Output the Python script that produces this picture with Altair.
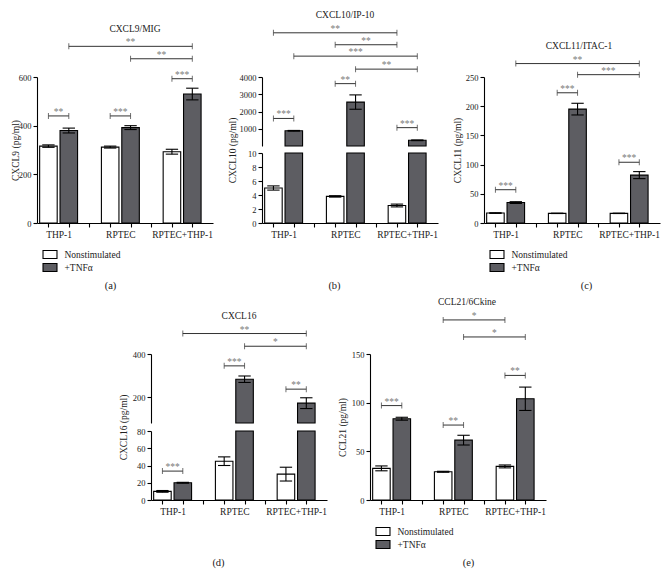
import altair as alt
import pandas as pd

FONT = "Liberation Serif"
DARK = "#5d5d62"
INK = "#222222"
STAR = "#7a7a7a"

groups = ["THP-1", "RPTEC", "RPTEC+THP-1"]
series = ["Nonstimulated", "+TNFα"]

# (a) CXCL9/MIG
a_non = [316, 312, 293]
a_non_err = [5, 4, 10]
a_tnf = [380, 392, 530]
a_tnf_err = [10, 8, 24]
a_brackets = [((0, 1), (2, 1), 726, "**"), ((1, 1), (2, 1), 675, "**"),
              ((2, 0), (2, 1), 593, "***"), ((0, 0), (0, 1), 440, "**"),
              ((1, 0), (1, 1), 440, "***")]

# (b) CXCL10/IP-10 (broken axis)
b_non = [5.0, 3.8, 2.5]
b_non_err = [0.3, 0.1, 0.2]
b_tnf = [890, 2550, 340]
b_tnf_err = [20, 415, 20]
b_brackets_upper = [((0, 0), (2, 0), 6556, "**"), ((1, 0), (2, 0), 5865, "**"),
                    ((0, 1), (2, 1), 5207, "***"), ((1, 1), (2, 1), 4455, "**"),
                    ((1, 0), (1, 1), 3616, "**"), ((0, 0), (0, 1), 1603, "***"),
                    ((2, 0), (2, 1), 1071, "***")]
b_brackets_lower = []

# (c) CXCL11/ITAC-1
c_non = [17, 16.5, 16.5]
c_non_err = [0.5, 0.3, 0.3]
c_tnf = [35, 195, 82]
c_tnf_err = [1.5, 10, 6]
c_brackets = [((0, 1), (2, 1), 273, "**"), ((1, 1), (2, 1), 254, "***"),
              ((1, 0), (1, 1), 223, "***"), ((0, 0), (0, 1), 57, "***"),
              ((2, 0), (2, 1), 104, "***")]

# (d) CXCL16 (broken axis)
d_non = [10, 45, 30]
d_non_err = [1, 5, 8]
d_tnf = [20, 283, 172]
d_tnf_err = [0.5, 15, 25]
d_brackets_upper = [((0, 1), (2, 1), 495, "**"), ((1, 1), (2, 1), 436, "*"),
                    ((1, 0), (1, 1), 345, "***"), ((2, 0), (2, 1), 237, "**")]
d_brackets_lower = [((0, 0), (0, 1), 33.5, "***")]

# (e) CCL21/6Ckine
e_non = [32.5, 29, 34.5]
e_non_err = [2.5, 0.5, 1.5]
e_tnf = [83.5, 61.5, 104]
e_tnf_err = [1.5, 5, 12]
e_brackets = [((1, 0), (2, 0), 185, "*"), ((1, 1), (2, 1), 167.5, "*"),
              ((0, 0), (0, 1), 97, "***"), ((1, 0), (1, 1), 77, "**"),
              ((2, 0), (2, 1), 128, "**")]

# layout constants
W = 176
H = 146
UH = 69
XDOM = [-0.35, 2.5]
OFF = [-0.165, 0.165]
HALF = 0.142
CAP = 0.1

tick_vals = sorted([g + o for g in range(len(groups)) for o in OFF] + [0.5, 1.5])
label_expr = "".join(
    f"abs(datum.value - ({g + OFF[0]:.3f})) < 0.01 ? '{name}' : " for g, name in enumerate(groups)
) + "''"
lab_off = OFF[1] * W / (XDOM[1] - XDOM[0])


def bar_frame(non, non_err, tnf, tnf_err):
    rows = []
    for s, (vals, errs) in enumerate([(non, non_err), (tnf, tnf_err)]):
        for g, (v, e) in enumerate(zip(vals, errs)):
            c = g + OFF[s]
            rows.append(dict(series=series[s], value=v, lo=v - e, hi=v + e,
                             xc=c, x0=c - HALF, x1=c + HALF, cl=c - CAP, cr=c + CAP))
    return pd.DataFrame(rows)


def bracket_frames(brk):
    rows, ends = [], []
    for (g1, s1), (g2, s2), y, lab in brk:
        xa = g1 + OFF[s1]
        xb = g2 + OFF[s2]
        rows.append(dict(xa=xa, xb=xb, xm=(xa + xb) / 2, y=y, label=lab))
        ends += [dict(x=xa, y=y), dict(x=xb, y=y)]
    return pd.DataFrame(rows), pd.DataFrame(ends)


def seg_layers(df, seg, sub, sub_dx, ytitle, ytx):
    dom, rng, vals, brk, lower = seg["dom"], seg["rng"], seg["vals"], seg["brk"], seg["lower"]
    xs = alt.Scale(domain=XDOM, nice=False, zero=False)
    ysc = alt.Scale(domain=dom, range=rng, nice=False, zero=False, clamp=True)
    ys = alt.Scale(domain=dom, range=rng, nice=False, zero=False)
    if lower:
        xaxis = alt.Axis(values=tick_vals, labelExpr=label_expr, labelOffset=lab_off,
                         labelFlush=False, labelOverlap=False, labelFontSize=9.5,
                         title=sub, titleY=62, titleBaseline="middle",
                         titleX=W / 2 + sub_dx, titleFontSize=10.5)
        yaxis = alt.Axis(values=vals, format="d", orient="left", title=ytitle,
                         titleX=ytx, titleY=H / 2, titleBaseline="middle")
        legend = alt.Legend(orient="none", legendX=6.5, legendY=H + 25, title=None)
    else:
        xaxis = None
        yaxis = alt.Axis(values=vals, format="d", orient="left", title=None)
        legend = None
    layers = []
    layers.append(
        alt.Chart(df).transform_filter(alt.datum.value > dom[0])
        .mark_bar(stroke="black", strokeWidth=1.1)
        .encode(
            x=alt.X("x0:Q", scale=xs, axis=xaxis),
            x2="x1:Q",
            y=alt.Y("value:Q", scale=ysc, axis=yaxis),
            y2=alt.datum(dom[0]),
            fill=alt.Fill("series:N", scale=alt.Scale(domain=series, range=["white", DARK]),
                          legend=legend),
        )
    )
    err = alt.Chart(df).transform_filter((alt.datum.lo >= dom[0]) & (alt.datum.hi <= dom[1]))
    layers.append(err.mark_rule(color="black", strokeWidth=1.1).encode(
        x=alt.X("xc:Q", scale=xs, axis=None), y=alt.Y("lo:Q", scale=ys, axis=None), y2="hi:Q"))
    for f in ["lo", "hi"]:
        layers.append(err.mark_rule(color="black", strokeWidth=1.1).encode(
            x=alt.X("cl:Q", scale=xs, axis=None), x2="cr:Q",
            y=alt.Y(f"{f}:Q", scale=ys, axis=None)))
    if brk:
        bdf, edf = bracket_frames(brk)
        layers.append(alt.Chart(bdf).mark_rule(color="#333333", strokeWidth=1).encode(
            x=alt.X("xa:Q", scale=xs, axis=None), x2="xb:Q",
            y=alt.Y("y:Q", scale=ys, axis=None)))
        layers.append(alt.Chart(edf).mark_tick(orient="vertical", size=6, thickness=1,
                                               color="#333333").encode(
            x=alt.X("x:Q", scale=xs, axis=None), y=alt.Y("y:Q", scale=ys, axis=None)))
        layers.append(alt.Chart(bdf).mark_text(dy=-4, fontSize=9.5, color=STAR, font=FONT).encode(
            x=alt.X("xm:Q", scale=xs, axis=None), y=alt.Y("y:Q", scale=ys, axis=None),
            text="label:N"))
    return layers


def panel(vals, segs, title, tdx, ytitle, ytx, sub, sub_dx):
    df = bar_frame(*vals)
    layers = []
    for seg in segs:
        layers += seg_layers(df, seg, sub, sub_dx, ytitle, ytx)
    return alt.layer(*layers).resolve_scale(y="independent").resolve_axis(
        x="independent", y="independent").properties(
        width=W, height=H,
        title=alt.TitleParams(text=title, dx=tdx, offset=4, frame="group"),
    )


pa = panel((a_non, a_non_err, a_tnf, a_tnf_err),
           [dict(dom=[0, 600], rng=[H, 0], vals=[0, 200, 400, 600], brk=a_brackets, lower=True)],
           "CXCL9/MIG", 10, "CXCL9 (pg/ml)", -22, "(a)", -15)
pb = panel((b_non, b_non_err, b_tnf, b_tnf_err),
           [dict(dom=[10, 4000], rng=[UH, 0], vals=[1000, 2000, 3000, 4000], brk=b_brackets_upper, lower=False),
            dict(dom=[0, 10], rng=[H, UH + 7], vals=[0, 2, 4, 6, 8, 10], brk=b_brackets_lower, lower=True)],
           "CXCL10/IP-10", -5, "CXCL10 (pg/ml)", -30, "(b)", -16)
pc = panel((c_non, c_non_err, c_tnf, c_tnf_err),
           [dict(dom=[0, 250], rng=[H, 0], vals=[0, 50, 100, 150, 200, 250], brk=c_brackets, lower=True)],
           "CXCL11/ITAC-1", 7, "CXCL11 (pg/ml)", -27, "(c)", 14)
pd_ = panel((d_non, d_non_err, d_tnf, d_tnf_err),
            [dict(dom=[80, 400], rng=[UH, 0], vals=[200, 400], brk=d_brackets_upper, lower=False),
             dict(dom=[0, 80], rng=[H, UH + 8], vals=[0, 20, 40, 60, 80], brk=d_brackets_lower, lower=True)],
            "CXCL16", 0, "CXCL16 (pg/ml)", -28, "(d)", -21)
pe = panel((e_non, e_non_err, e_tnf, e_tnf_err),
           [dict(dom=[0, 150], rng=[H, 0], vals=[0, 50, 100, 150], brk=e_brackets, lower=True)],
           "CCL21/6Ckine", 9, "CCL21 (pg/ml)", -28, "(e)", 10)

row1 = alt.hconcat(pa, pb, pc, spacing=14).resolve_scale(
    x="independent", y="independent", fill="independent").resolve_legend(fill="independent")
row2 = alt.hconcat(pd_, pe, spacing=10).resolve_scale(
    x="independent", y="independent", fill="independent").resolve_legend(fill="independent")

chart = alt.vconcat(row1, row2, spacing=6, center=True).resolve_scale(
    x="independent", y="independent", fill="independent").resolve_legend(fill="independent")

chart = chart.configure_view(stroke=None).configure_axis(
    labelFont=FONT, titleFont=FONT, labelFontSize=8.5, titleFontSize=9.5,
    labelColor=INK, titleColor=INK, titleFontWeight="normal",
    domainColor="black", tickColor="black", domainWidth=1.1, tickWidth=1.1,
    tickSize=4, grid=False, labelPadding=2,
).configure_legend(
    labelFont=FONT, labelFontSize=9.5, labelColor=INK,
    symbolType="M-1.27,-0.73H1.27V0.73H-1.27Z", symbolSize=121,
    symbolStrokeColor="black", symbolStrokeWidth=1.1, labelOffset=8, rowPadding=0,
).configure_title(
    font=FONT, fontSize=9.5, fontWeight="normal", color=INK, anchor="middle",
).properties(padding={"left": 2, "right": 2, "top": 2, "bottom": 2})

chart.save("out.html", embed_options={"renderer": "svg", "actions": False})
